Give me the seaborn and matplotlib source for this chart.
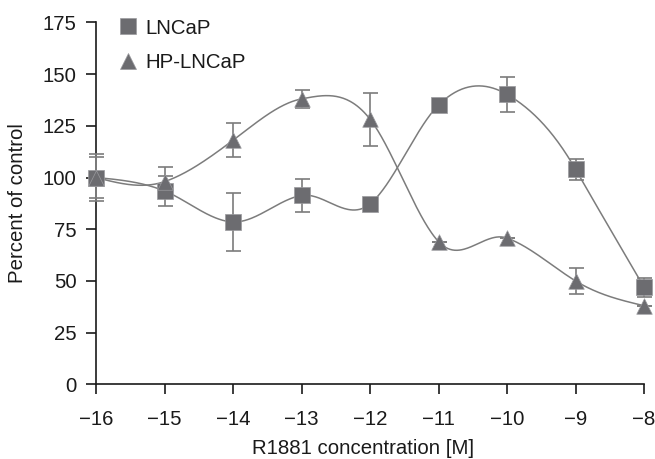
import numpy as np
import pandas as pd
import matplotlib
matplotlib.use("Agg")
import matplotlib.pyplot as plt
import seaborn as sns
from matplotlib.lines import Line2D

# ---- data ----
concentration = [-16, -15, -14, -13, -12, -11, -10, -9, -8]
lncap = [100, 93.5, 78.5, 91.3, 87.2, 135, 140.2, 104, 47]
lncap_err = [11.5, 7.3, 14, 7.8, 0, 0, 8.4, 5, 4.6]
hp_lncap = [100, 98, 118, 138, 128.2, 69, 70.7, 50, 38]
hp_err = [10, 7, 8.2, 4.3, 12.9, 0, 0, 6.3, 0]
series_names = ["LNCaP", "HP-LNCaP"]
x_ticks = [-16, -15, -14, -13, -12, -11, -10, -9, -8]
y_ticks = [0, 25, 50, 75, 100, 125, 150, 175]

MARKER_COLOR = "#6c6c70"
LINE_COLOR = "#7c7c7c"
TEXT_COLOR = "#1a1a1a"
FS = 14.7

sns.set_theme(style="ticks")
plt.rcParams["font.family"] = ["Liberation Sans", "DejaVu Sans"]


def smooth_curve(xs, ys, k=0.62, n=60):
    """Cubic Hermite smoothing through the data points (drawing aid only)."""
    X = np.asarray(xs, float)
    Y = np.asarray(ys, float)
    m = np.zeros_like(Y)
    for i in range(1, len(Y) - 1):
        m[i] = k * (Y[i + 1] - Y[i - 1]) / ((X[i + 1] - X[i - 1]) / 2)
    sec0 = (Y[1] - Y[0]) / (X[1] - X[0])
    secn = (Y[-1] - Y[-2]) / (X[-1] - X[-2])
    m[0] = (3 * sec0 - m[1]) / 2
    m[-1] = (3 * secn - m[-2]) / 2
    xo, yo = [], []
    for i in range(len(X) - 1):
        h = X[i + 1] - X[i]
        t = np.linspace(0, 1, n)
        if i > 0:
            t = t[1:]
        h00 = 2 * t**3 - 3 * t**2 + 1
        h10 = t**3 - 2 * t**2 + t
        h01 = -2 * t**3 + 3 * t**2
        h11 = t**3 - t**2
        yo.append(h00 * Y[i] + h10 * h * m[i] + h01 * Y[i + 1] + h11 * h * m[i + 1])
        xo.append(X[i] + t * h)
    return np.concatenate(xo), np.concatenate(yo)


fig = plt.figure(figsize=(6.55, 4.59), dpi=100)
ax = fig.add_axes([96 / 655, 1 - 384.3 / 459, 548 / 655, 361.9 / 459])

points = pd.DataFrame({
    "x": concentration * 2,
    "y": lncap + hp_lncap,
    "err": lncap_err + hp_err,
    "series": [series_names[0]] * len(concentration) + [series_names[1]] * len(concentration),
})

curves = []
for name, vals in zip(series_names, [lncap, hp_lncap]):
    cx, cy = smooth_curve(concentration, vals)
    curves.append(pd.DataFrame({"x": cx, "y": cy, "series": name}))
curves = pd.concat(curves, ignore_index=True)

sns.lineplot(data=curves, x="x", y="y", units="series", estimator=None, sort=False,
             color=LINE_COLOR, linewidth=1.1, ax=ax, legend=False, zorder=2)

for name, mk, sz in zip(series_names, ["s", "^"], [135, 125]):
    sub = points[points["series"] == name]
    ax.errorbar(sub["x"], sub["y"], yerr=sub["err"], fmt="none", ecolor=LINE_COLOR,
                elinewidth=1.2, capsize=5.4, capthick=1.2, zorder=3, clip_on=False)
    sns.scatterplot(data=sub, x="x", y="y", marker=mk, s=sz, color=MARKER_COLOR,
                    edgecolor="#9a9a9e", linewidth=0.5, ax=ax, legend=False, zorder=4,
                    clip_on=False)

ax.set_xlim(-16, -8)
ax.set_ylim(0, 175)
ax.set_xticks(x_ticks)
ax.set_xticklabels([f"\u2212{abs(v)}" for v in x_ticks])
ax.set_yticks(y_ticks)
ax.set_yticklabels([str(v) for v in y_ticks])

sns.despine(ax=ax)
for sp in ["left", "bottom"]:
    ax.spines[sp].set_color(TEXT_COLOR)
    ax.spines[sp].set_linewidth(1.2)
ax.tick_params(axis="both", direction="out", length=7.2, width=1.2, color=TEXT_COLOR,
               labelsize=FS, labelcolor=TEXT_COLOR)
ax.tick_params(axis="y", pad=7)
ax.tick_params(axis="x", pad=11)

ax.set_xlabel("R1881 concentration [M]", fontsize=FS, color=TEXT_COLOR)
ax.set_ylabel("Percent of control", fontsize=FS, color=TEXT_COLOR)
ax.xaxis.set_label_coords(0.488, -0.152)
ax.yaxis.set_label_coords(-0.126, 0.5)

handles = [
    Line2D([], [], marker="s", linestyle="none", markersize=11.5, color=MARKER_COLOR,
           markeredgecolor="#9a9a9e", markeredgewidth=0.5),
    Line2D([], [], marker="^", linestyle="none", markersize=11, color=MARKER_COLOR,
           markeredgecolor="#9a9a9e", markeredgewidth=0.5),
]
leg = ax.legend(handles, series_names, loc="upper left", bbox_to_anchor=(0.024, 1.033),
                frameon=False, fontsize=FS, handlelength=1.0, handletextpad=0.36,
                labelspacing=0.76, borderaxespad=0)
for t in leg.get_texts():
    t.set_color(TEXT_COLOR)

fig.savefig("out.png", dpi=100)
